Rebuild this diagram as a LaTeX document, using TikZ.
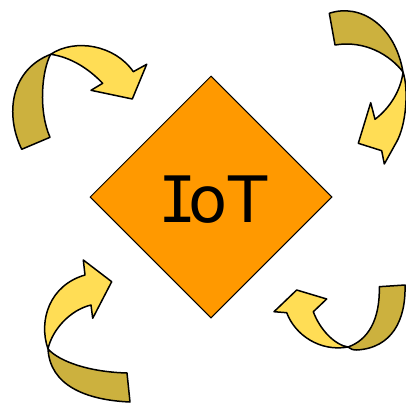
\documentclass[tikz,border=0pt]{standalone}
\usepackage{fontspec}
\setmainfont{DejaVu Sans}
\newfontfamily\iotmono{DejaVu Sans Mono}
\usetikzlibrary{shapes.geometric}
\definecolor{iotorange}{HTML}{FF9900}
\definecolor{arrlight}{HTML}{FFDD55}
\definecolor{arrdark}{HTML}{CCB13E}
\tikzset{
  lightpart/.style={fill=arrlight, draw=black, line width=1.5pt, line join=round},
  darkpart/.style={fill=arrdark, draw=black, line width=1.5pt, line join=round},
  iotbox/.style={diamond, draw=black, fill=iotorange, line width=1pt, minimum width=242pt, minimum height=242pt, inner sep=0pt},
  iottext/.style={font=\fontsize{64}{64}\selectfont, inner sep=0pt}
}
\begin{document}
\begin{tikzpicture}[x=1pt,y=-1pt]
\useasboundingbox (0,0) rectangle (406,404);
% central diamond
\node[iotbox] (box) at (211,197) {};
\node[iottext] (label) at (213,199.5) {{\iotmono I}\kern-8.5pt oT};
% arrow 1 (top left)
\draw[darkpart] (21.7,149.3) .. controls (5,115) and (10,70) .. (50.7,54.3)
  .. controls (42,70) and (38,110) .. (50,137.3) -- cycle;
\draw[lightpart] (50.7,54.3) .. controls (75,38) and (115,45) .. (133.3,71.7)
  -- (146.7,64.3) -- (132.3,99) -- (91,90.3) -- (102.7,83.3)
  .. controls (88,68) and (70,57) .. (50.7,54.3) -- cycle;
% arrow 2 (top right)
\draw[darkpart] (329.3,13.3) .. controls (360,3) and (395,25) .. (403,72)
  .. controls (390,55) and (365,40) .. (335,45) -- cycle;
\draw[lightpart] (403,72) .. controls (409,90) and (406,125) .. (396.7,141.7)
  -- (384.3,164) -- (381.7,150.7) -- (358.3,143.3) -- (370.7,102.7) -- (375,119.3)
  .. controls (390,108) and (401,90) .. (403,72) -- cycle;
% arrow 3 (bottom left)
\draw[darkpart] (48,349) .. controls (60,362) and (90,372) .. (127,373)
  -- (130,402) .. controls (85,400) and (50,385) .. (48,349) -- cycle;
\draw[lightpart] (48,349) .. controls (38,320) and (50,285) .. (85,275)
  -- (83.3,260) -- (111.7,281.7) -- (92.7,318.3) -- (91,305)
  .. controls (70,310) and (52,330) .. (48,349) -- cycle;
% arrow 4 (bottom right)
\draw[darkpart] (348,347) .. controls (368,340) and (380,320) .. (379.3,286.7)
  -- (405,285) .. controls (406,320) and (392,348) .. (356.7,350)
  .. controls (353,350) and (350,349) .. (348,347) -- cycle;
\draw[lightpart] (348,347) .. controls (320,352) and (295,335) .. (286.7,312.7)
  -- (274,311.7) -- (296.7,290) -- (326.7,299) -- (313.3,311.7)
  .. controls (320,330) and (335,345) .. (348,347) -- cycle;
\end{tikzpicture}
\end{document}
